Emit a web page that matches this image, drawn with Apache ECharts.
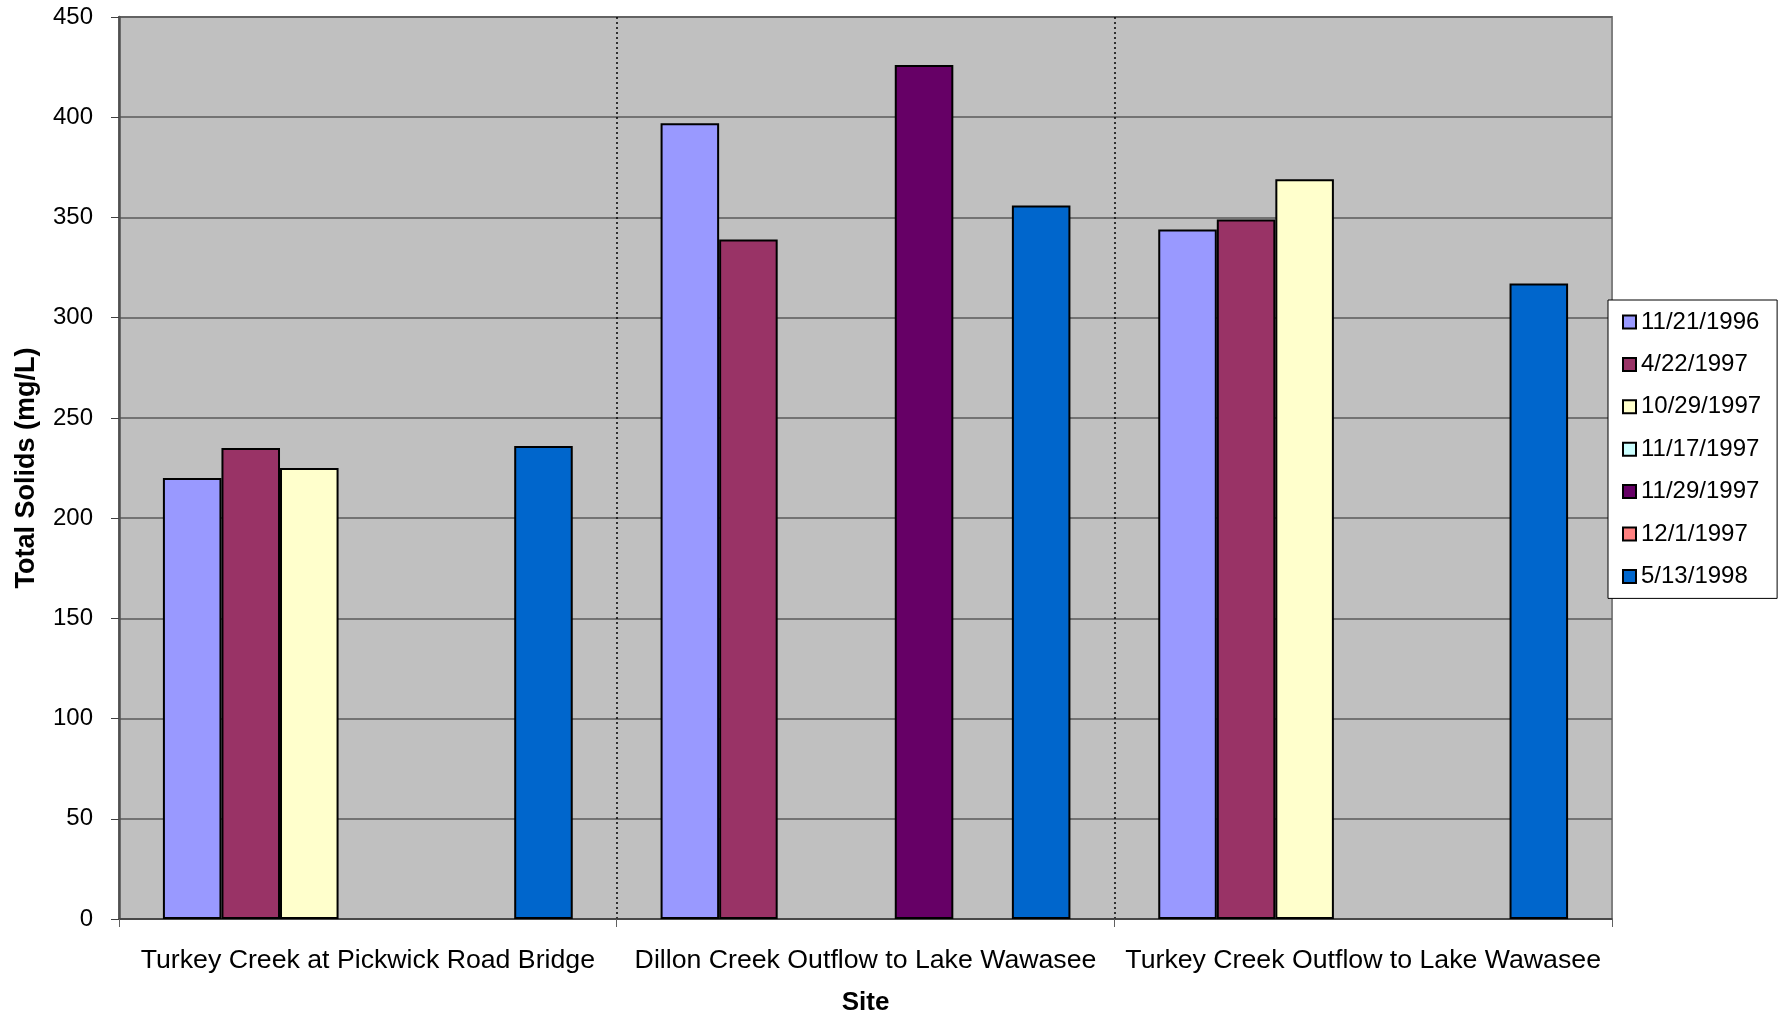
<!DOCTYPE html>
<html>
<head>
<meta charset="utf-8">
<title>Total Solids by Site</title>
<script src="https://cdn.jsdelivr.net/npm/echarts@6/dist/echarts.min.js"></script>
<style>
  html, body { margin: 0; padding: 0; background: #ffffff; }
  #chart { width: 1783px; height: 1017px; }
</style>
</head>
<body>
<div id="chart"></div>
<script>
// Sampling sites (category axis)
const sites = [
  'Turkey Creek at Pickwick Road Bridge',
  'Dillon Creek Outflow to Lake Wawasee',
  'Turkey Creek Outflow to Lake Wawasee'
];

// Sampling dates (one bar series each)
const sampleDates = ['11/21/1996', '4/22/1997', '10/29/1997', '11/17/1997', '11/29/1997', '12/1/1997', '5/13/1998'];

// Total solids (mg/L) per date, in site order; null = not sampled
const ts_1996_11_21 = [220, 397, 344];
const ts_1997_04_22 = [235, 339, 349];
const ts_1997_10_29 = [225, null, 369];
const ts_1997_11_17 = [null, null, null];
const ts_1997_11_29 = [null, 426, null];
const ts_1997_12_01 = [null, null, null];
const ts_1998_05_13 = [236, 356, 317];

const seriesValues = [ts_1996_11_21, ts_1997_04_22, ts_1997_10_29, ts_1997_11_17, ts_1997_11_29, ts_1997_12_01, ts_1998_05_13];
const seriesColors = ['#9999FF', '#993366', '#FFFFCC', '#CCFFFF', '#660066', '#FF8080', '#0066CC'];

// Value axis ticks
const yMin = 0, yMax = 450, yStep = 50;

const FONT = '"Liberation Sans", Arial, sans-serif';

const chart = echarts.init(document.getElementById('chart'), null, { renderer: 'canvas' });

chart.setOption({
  animation: false,
  backgroundColor: '#ffffff',
  textStyle: { fontFamily: FONT, color: '#000000' },
  grid: {
    left: 119, right: 171, top: 17, bottom: 98,
    outerBoundsMode: 'none',
    containLabel: false,
    show: true,
    backgroundColor: '#C0C0C0',
    borderColor: '#808080',
    borderWidth: 2
  },
  legend: {
    orient: 'vertical',
    left: 1608,
    top: 300,
    padding: [10, 16, 10, 14],
    itemGap: 18.4,
    itemWidth: 13,
    itemHeight: 13,
    icon: 'rect',
    backgroundColor: '#ffffff',
    borderColor: '#000000',
    borderWidth: 1,
    borderRadius: 0,
    data: sampleDates,
    itemStyle: { borderColor: '#000000', borderWidth: 2 },
    textStyle: { fontFamily: FONT, fontSize: 24, lineHeight: 24, color: '#000000' }
  },
  xAxis: {
    type: 'category',
    data: sites,
    boundaryGap: true,
    name: 'Site',
    nameLocation: 'middle',
    nameGap: 71,
    nameTextStyle: { fontFamily: FONT, fontSize: 26, fontWeight: 'bold', color: '#000000' },
    axisLine: { show: true, lineStyle: { color: '#404040', width: 1.5 } },
    axisTick: { show: true, length: 8, lineStyle: { color: '#606060', width: 1 } },
    axisLabel: { fontFamily: FONT, fontSize: 26.7, color: '#000000', margin: 28.5, interval: 0 },
    splitLine: {
      show: true,
      showMinLine: false,
      showMaxLine: false,
      lineStyle: { color: '#000000', type: [2, 3], width: 1.5 }
    }
  },
  yAxis: {
    type: 'value',
    min: yMin,
    max: yMax,
    interval: yStep,
    name: 'Total Solids (mg/L)',
    nameLocation: 'middle',
    nameGap: 79,
    nameTextStyle: { fontFamily: FONT, fontSize: 27, fontWeight: 'bold', color: '#000000' },
    axisLine: { show: true, lineStyle: { color: '#505050', width: 2.5 } },
    axisTick: { show: true, length: 8, lineStyle: { color: '#404040', width: 1 } },
    axisLabel: { fontFamily: FONT, fontSize: 24, color: '#000000', margin: 26 },
    splitLine: { show: true, lineStyle: { color: '#5a5a5a', width: 1.5 } }
  },
  series: sampleDates.map((d, i) => ({
    name: d,
    type: 'bar',
    data: seriesValues[i],
    barGap: '0%',
    barCategoryGap: '17.647%',
    itemStyle: { color: seriesColors[i], borderColor: '#000000', borderWidth: 2 }
  }))
});
</script>
</body>
</html>
